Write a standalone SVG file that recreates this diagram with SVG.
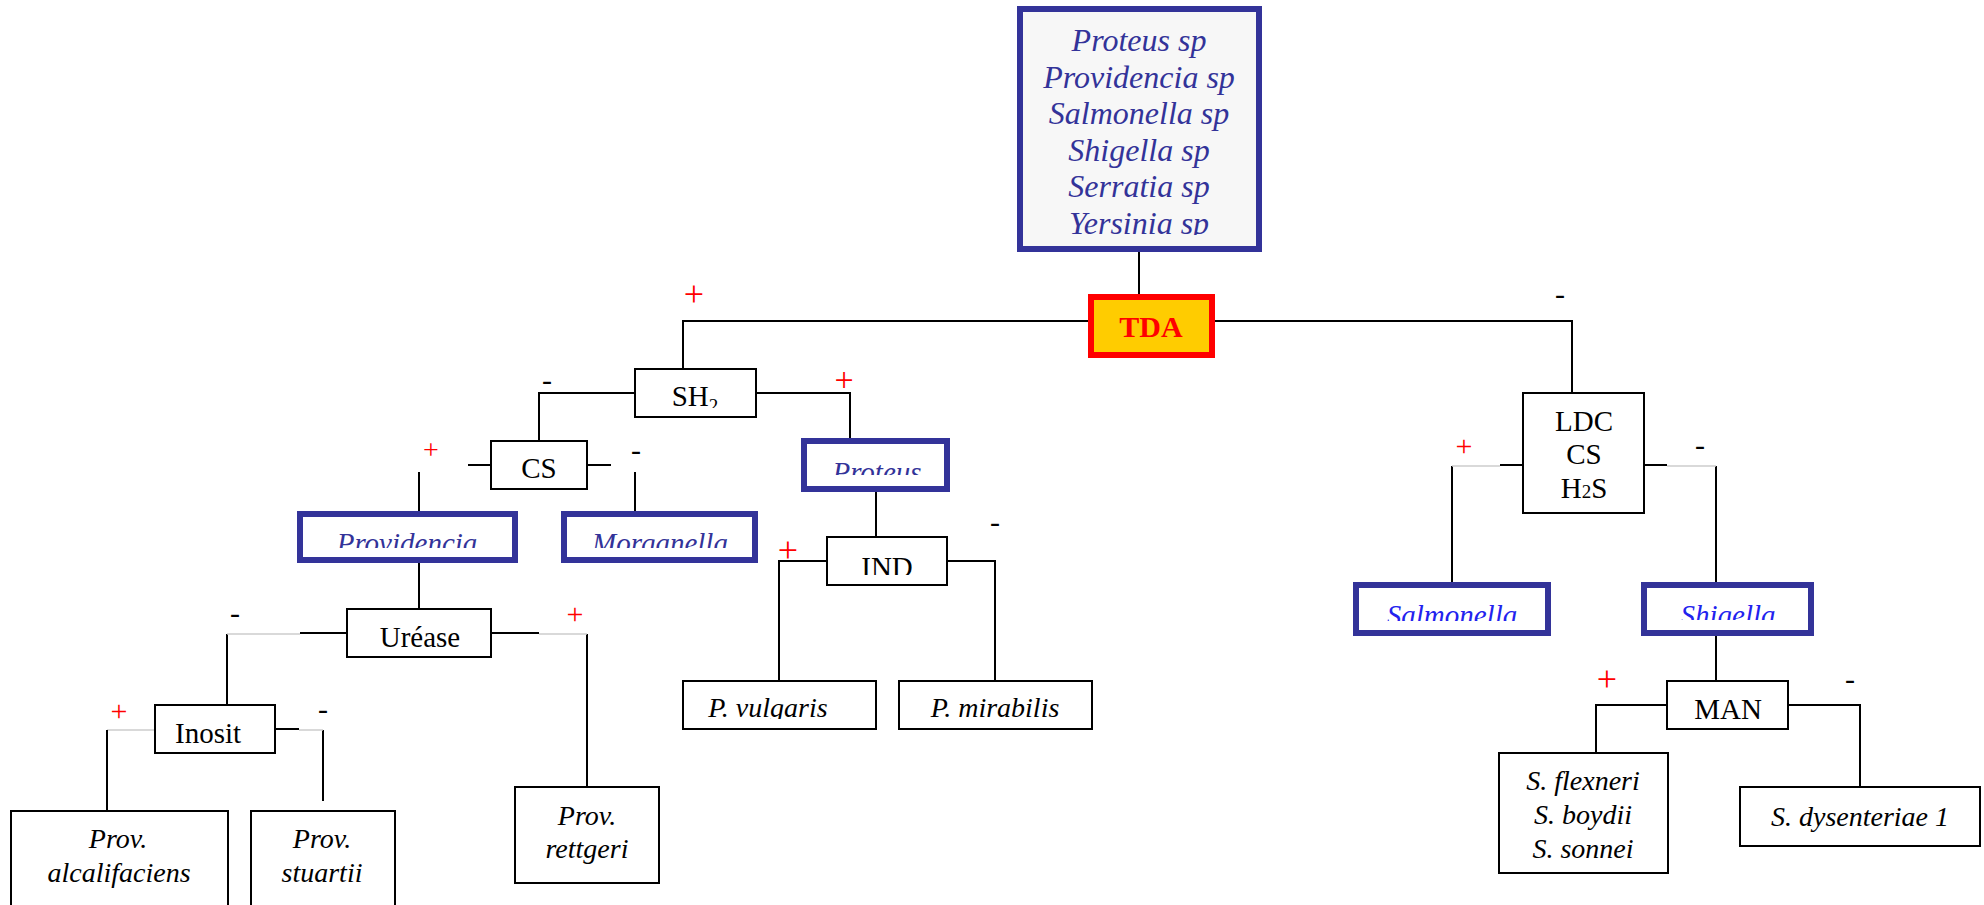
<svg xmlns="http://www.w3.org/2000/svg" width="1984" height="905" viewBox="0 0 1984 905">
<style>
.box{fill:#fff;stroke:#000;stroke-width:2}
.bbox{fill:#fff;stroke:#333399;stroke-width:6}
.t{font-family:"Liberation Serif","Times New Roman",serif;font-size:29px;fill:#000;text-anchor:middle}
.i{font-family:"Liberation Serif","Times New Roman",serif;font-size:28px;font-style:italic;fill:#000;text-anchor:middle}
.bi{font-family:"Liberation Serif","Times New Roman",serif;font-size:29px;font-style:italic;fill:#333399;text-anchor:middle}
.vi{font-family:"Liberation Serif","Times New Roman",serif;font-size:29px;font-style:italic;fill:#2222ee;text-anchor:middle}
.ln{fill:none;stroke:#000;stroke-width:2}
.gl{fill:none;stroke:#cccccc;stroke-width:1.5}
.plus{font-family:"Liberation Serif","Times New Roman",serif;fill:#ff0000;text-anchor:middle}
.minus{font-family:"Liberation Serif","Times New Roman",serif;font-size:30px;fill:#000;text-anchor:middle}
</style>
<defs>
<clipPath id="cTop"><rect x="1020" y="9" width="239" height="226"/></clipPath>
<clipPath id="cSH"><rect x="636" y="370" width="119" height="38"/></clipPath>
<clipPath id="cProv"><rect x="300" y="514" width="215" height="34"/></clipPath>
<clipPath id="cMorg"><rect x="564" y="514" width="191" height="34"/></clipPath>
<clipPath id="cProt"><rect x="804" y="441" width="143" height="34"/></clipPath>
<clipPath id="cIND"><rect x="828" y="538" width="118" height="37"/></clipPath>
<clipPath id="cPV"><rect x="684" y="682" width="191" height="37"/></clipPath>
<clipPath id="cPM"><rect x="900" y="682" width="191" height="37"/></clipPath>
<clipPath id="cSal"><rect x="1356" y="585" width="192" height="36"/></clipPath>
<clipPath id="cShi"><rect x="1644" y="585" width="167" height="35"/></clipPath>
</defs>
<rect width="1984" height="905" fill="#fff"/>

<g id="connectors">
<path class="ln" d="M1139 249V294"/>
<path class="ln" d="M1088 321H683V369"/>
<path class="ln" d="M1215 321H1572V393"/>
<path class="ln" d="M635 393H539V441"/>
<path class="ln" d="M756 393H850V438"/>
<path class="ln" d="M468 465H491M587 465H611"/>
<path class="ln" d="M419 472V511M635 472V511"/>
<path class="ln" d="M419 563V609"/>
<path class="ln" d="M300 633H347M227 634V705"/>
<path class="gl" d="M227 634H300"/>
<path class="ln" d="M491 633H539M587 634V787"/>
<path class="gl" d="M539 634H587"/>
<path class="gl" d="M107 730H155"/>
<path class="ln" d="M107 730V811"/>
<path class="ln" d="M275 729H299M323 730V801"/>
<path class="gl" d="M299 730H323"/>
<path class="ln" d="M876 492V537"/>
<path class="ln" d="M827 561H779V681M947 561H995V681"/>
<path class="ln" d="M1500 465H1523M1452 466V582"/>
<path class="gl" d="M1452 466H1500"/>
<path class="ln" d="M1644 465H1667M1716 466V582"/>
<path class="gl" d="M1667 466H1716"/>
<path class="ln" d="M1716 636V681"/>
<path class="ln" d="M1667 705H1596V753M1788 705H1860V787"/>
</g>

<g id="signs">
<text class="plus" font-size="36" x="694" y="306">+</text>
<text class="minus" x="1560" y="304">-</text>
<text class="minus" x="547" y="390">-</text>
<text class="plus" font-size="34" x="844" y="391">+</text>
<text class="plus" font-size="28" x="431" y="459">+</text>
<text class="minus" x="636" y="460">-</text>
<text class="plus" font-size="36" x="788" y="562">+</text>
<text class="minus" x="995" y="532">-</text>
<text class="plus" font-size="30" x="1464" y="456">+</text>
<text class="minus" x="1700" y="455">-</text>
<text class="minus" x="235" y="623">-</text>
<text class="plus" font-size="30" x="575" y="624">+</text>
<text class="plus" font-size="30" x="119" y="721">+</text>
<text class="minus" x="323" y="719">-</text>
<text class="plus" font-size="36" x="1607" y="691">+</text>
<text class="minus" x="1850" y="689">-</text>
</g>

<g id="top">
<rect x="1020" y="9" width="239" height="240" fill="#f7f7f7" stroke="#333399" stroke-width="6"/>
<g clip-path="url(#cTop)" font-family="Liberation Serif,Times New Roman,serif" font-size="32" font-style="italic" fill="#333399" text-anchor="middle">
<text x="1139" y="51">Proteus sp</text>
<text x="1139" y="87.5">Providencia sp</text>
<text x="1139" y="124">Salmonella sp</text>
<text x="1139" y="160.5">Shigella sp</text>
<text x="1139" y="197">Serratia sp</text>
<text x="1139" y="234">Yersinia sp</text>
</g>
</g>

<g id="tda">
<rect x="1091" y="297" width="121" height="58" fill="#ffcc00" stroke="#ff0000" stroke-width="6"/>
<text x="1151" y="337" font-family="Liberation Serif,Times New Roman,serif" font-size="30" font-weight="bold" fill="#ff0000" text-anchor="middle">TDA</text>
</g>

<g id="sh2">
<rect class="box" x="635" y="369" width="121" height="48"/>
<text class="t" x="695" y="406" clip-path="url(#cSH)">SH<tspan font-size="19" dy="6">2</tspan></text>
</g>

<g id="cs">
<rect class="box" x="491" y="441" width="96" height="48"/>
<text class="t" x="539" y="478">CS</text>
</g>

<g id="providencia">
<rect class="bbox" x="300" y="514" width="215" height="46"/>
<text class="bi" x="407" y="553" clip-path="url(#cProv)">Providencia</text>
</g>

<g id="morganella">
<rect class="bbox" x="564" y="514" width="191" height="46"/>
<text class="bi" x="660" y="553" clip-path="url(#cMorg)">Morganella</text>
</g>

<g id="proteus">
<rect class="bbox" x="804" y="441" width="143" height="48"/>
<text class="bi" x="877" y="482" clip-path="url(#cProt)">Proteus</text>
</g>

<g id="ind">
<rect class="box" x="827" y="537" width="120" height="48"/>
<text class="t" x="887" y="577" clip-path="url(#cIND)">IND</text>
</g>

<g id="pvulgaris">
<rect class="box" x="683" y="681" width="193" height="48"/>
<text class="i" x="768" y="717" font-size="29" clip-path="url(#cPV)">P. vulgaris</text>
</g>

<g id="pmirabilis">
<rect class="box" x="899" y="681" width="193" height="48"/>
<text class="i" x="995" y="717" font-size="29" clip-path="url(#cPM)">P. mirabilis</text>
</g>

<g id="urease">
<rect class="box" x="347" y="609" width="144" height="48"/>
<text class="t" x="420" y="647">Uréase</text>
</g>

<g id="inosit">
<rect class="box" x="155" y="705" width="120" height="48"/>
<text class="t" x="208" y="743">Inosit</text>
</g>

<g id="alcalifaciens">
<rect class="box" x="11" y="811" width="217" height="110"/>
<text class="i" x="118" y="848">Prov.</text>
<text class="i" x="119" y="882">alcalifaciens</text>
</g>

<g id="stuartii">
<rect class="box" x="251" y="811" width="144" height="110"/>
<text class="i" x="322" y="848">Prov.</text>
<text class="i" x="322" y="882">stuartii</text>
</g>

<g id="rettgeri">
<rect class="box" x="515" y="787" width="144" height="96"/>
<text class="i" x="587" y="825">Prov.</text>
<text class="i" x="587" y="858">rettgeri</text>
</g>

<g id="ldc">
<rect class="box" x="1523" y="393" width="121" height="120"/>
<text class="t" x="1584" y="431">LDC</text>
<text class="t" x="1584" y="464">CS</text>
<text class="t" x="1584" y="498">H<tspan font-size="19">2</tspan>S</text>
</g>

<g id="salmonella">
<rect class="bbox" x="1356" y="585" width="192" height="48"/>
<text class="vi" x="1452" y="625" clip-path="url(#cSal)">Salmonella</text>
</g>

<g id="shigella">
<rect class="bbox" x="1644" y="585" width="167" height="48"/>
<text class="vi" x="1728" y="625" clip-path="url(#cShi)">Shigella</text>
</g>

<g id="man">
<rect class="box" x="1667" y="681" width="121" height="48"/>
<text class="t" x="1728" y="719">MAN</text>
</g>

<g id="sflexneri">
<rect class="box" x="1499" y="753" width="169" height="120"/>
<text class="i" x="1583" y="790">S. flexneri</text>
<text class="i" x="1583" y="824">S. boydii</text>
<text class="i" x="1583" y="858">S. sonnei</text>
</g>

<g id="sdysenteriae">
<rect class="box" x="1740" y="787" width="240" height="59"/>
<text class="i" x="1860" y="826" font-size="29">S. dysenteriae 1</text>
</g>
</svg>
